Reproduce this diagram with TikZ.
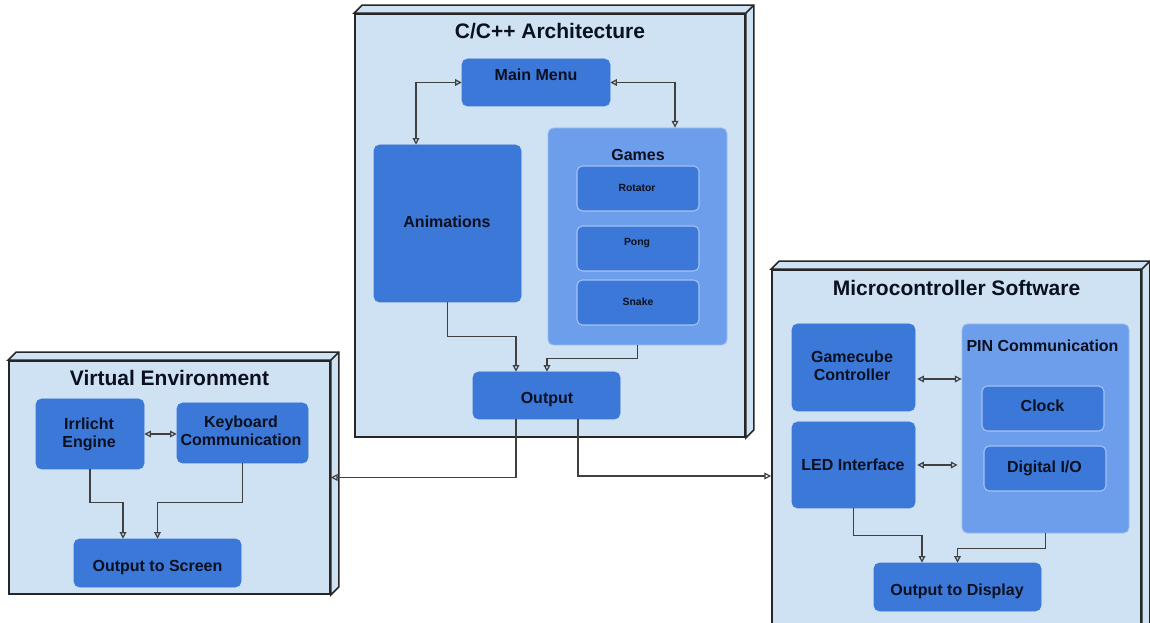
\documentclass[tikz,border=0pt]{standalone}
\usepackage{fontspec}
\setmainfont{Liberation Sans}
\usetikzlibrary{arrows.meta,calc,fit}
\definecolor{outerfill}{HTML}{CFE2F3}
\definecolor{boxfill}{HTML}{3C78D8}
\definecolor{contfill}{HTML}{6D9EEB}
\definecolor{subline}{HTML}{A4C2F4}
\definecolor{conn}{HTML}{404040}
\definecolor{txt}{HTML}{0A1020}
\newcommand\twoline[2]{\vtop{\baselineskip=13.5pt\halign{\hfil##\hfil\cr#1\cr#2\cr}}}
\begin{document}
\begin{tikzpicture}[x=0.75pt,y=-0.75pt,
 outer/.style={draw=black!85, line width=1.3pt, fill=outerfill, inner sep=0pt},
 depth/.style={draw=black!85, line width=1.3pt, fill=outerfill, line join=miter},
 blk/.style={fill=boxfill, draw=boxfill, rounded corners=4pt, inner sep=0pt},
 cont/.style={fill=contfill, draw=contfill!70!white, line width=0.6pt, rounded corners=4pt, inner sep=0pt},
 sub/.style={fill=boxfill, draw=subline, line width=0.8pt, rounded corners=4pt, inner sep=0pt},
 ttl/.style={anchor=base, font=\bfseries\fontsize{15.75}{18}\selectfont, text=txt, inner sep=0pt},
 lbl/.style={anchor=base, font=\bfseries\fontsize{12}{13.5}\selectfont, text=txt, inner sep=0pt},
 sml/.style={anchor=base, font=\bfseries\fontsize{7.8}{9}\selectfont, text=txt, inner sep=0pt},
 tip/.tip={Triangle[open,length=5pt,width=5pt]},
 arr/.style={draw=conn, line width=0.9pt, -tip},
 biarr/.style={draw=conn, line width=0.9pt, tip-tip},
]
\useasboundingbox (0,0) rectangle (1150,623);
\clip (0,0) rectangle (1150,623);

% ---------- C/C++ Architecture ----------
\node[outer, fit={(355,14)(745,437)}] (cpp) {};
\draw[depth] (cpp.north west) -- ++(8,-8) -| ($(cpp.south east)+(8,-8)$) -- (cpp.south east) -- (cpp.north east) -- cycle;
\draw[depth] (cpp.north east) -- ++(8,-8);
\node[ttl] (cppt) at (550,39) {C/C++ Architecture};

\node[blk, fit={(462,59)(610,106)}] (mm) {};
\node[lbl] (mmt) at (536,81) {Main Menu};
\node[blk, fit={(374,145)(521,302)}] (anim) {};
\node[lbl] (animt) at (447,228) {Animations};
\node[cont, fit={(548,128)(727,345)}] (games) {};
\node[lbl] (gamest) at (638,161) {Games};
\node[sub, fit={(577,166)(699,211)}] (rot) {};
\node[sml] (rott) at (637,192) {Rotator};
\node[sub, fit={(577,226)(699,271)}] (pong) {};
\node[sml] (pongt) at (637,246) {Pong};
\node[sub, fit={(577,280)(699,325)}] (snake) {};
\node[sml] (snaket) at (638,306) {Snake};
\node[blk, fit={(473,372)(620,419)}] (out) {};
\node[lbl] (outt) at (547,404) {Output};

% ---------- Virtual Environment ----------
\node[outer, fit={(9,361)(330,594)}] (ve) {};
\draw[depth] (ve.north west) -- ++(8,-8) -| ($(ve.south east)+(8,-8)$) -- (ve.south east) -- (ve.north east) -- cycle;
\draw[depth] (ve.north east) -- ++(8,-8);
\node[ttl] (vet) at (169.5,385.5) {Virtual Environment};

\node[blk, fit={(36,399)(144,469)}] (ie) {};
\node[lbl] (iet) at (89,430) {\twoline{Irrlicht}{Engine}};
\node[blk, fit={(177,403)(308,463)}] (kc) {};
\node[lbl] (kct) at (241,428) {\twoline{Keyboard}{Communication}};
\node[blk, fit={(74,539)(241,587)}] (os) {};
\node[lbl] (ost) at (157.5,571.5) {Output to Screen};

% ---------- Microcontroller Software ----------
\node[outer, fit={(772,270)(1141,630)}] (mc) {};
\draw[depth] (mc.north west) -- ++(8,-8) -| ($(mc.south east)+(8,-8)$) -- (mc.south east) -- (mc.north east) -- cycle;
\draw[depth] (mc.north east) -- ++(8,-8);
\node[ttl] (mct) at (956.5,295.5) {Microcontroller Software};

\node[blk, fit={(792,324)(915,411)}] (gc) {};
\node[lbl] (gct) at (852,363) {\twoline{Gamecube}{Controller}};
\node[blk, fit={(792,422)(915,508)}] (led) {};
\node[lbl] (ledt) at (853,470.5) {LED Interface};
\node[cont, fit={(962,324)(1129,533)}] (pin) {};
\node[lbl] (pint) at (1042.5,351.5) {PIN Communication};
\node[sub, fit={(982,386)(1104,431)}] (clk) {};
\node[lbl] (clkt) at (1042.5,412) {Clock};
\node[sub, fit={(984,446)(1106,491)}] (dio) {};
\node[lbl] (diot) at (1044.5,472.5) {Digital I/O};
\node[blk, fit={(874,563)(1041,611)}] (od) {};
\node[lbl] (odt) at (957,595) {Output to Display};

% ---------- connectors ----------
\draw[biarr] (mm.west) -| ($(anim.north)+(-31.5,0)$);
\draw[biarr] (mm.east) -| ($(games.north)+(37.5,0)$);
\draw[arr] (anim.south) -- ++(0,34) -| ($(out.north)+(-30.5,0)$);
\draw[arr] (games.south) -- ++(0,13) -| ($(out.north)+(0.5,0)$);
\draw[arr] ($(out.south)+(-30.5,0)$) |- (ve.east);
\draw[arr] ($(out.south)+(31.5,0)$) |- ($(mc.west)+(0,26)$);

\draw[biarr] (ie.east) -- (ie.east -| kc.west);
\draw[arr] (ie.south) -- ++(0,33) -| ($(os.north)+(-34.5,0)$);
\draw[arr] (kc.south) -- ++(0,39) -| (os.north);

\draw[biarr] ($(gc.east)+(2,11.5)$) coordinate (g1) -- (g1 -| pin.west);
\draw[biarr] ($(led.east)+(2,0)$) -- ($(led.east -| pin.west)+(-4,0)$);
\draw[arr] (led.south) -- ++(0,27) -| ($(od.north)+(-35.5,0)$);
\draw[arr] (pin.south) -- ++(0,15) -| (od.north);
\end{tikzpicture}
\end{document}
